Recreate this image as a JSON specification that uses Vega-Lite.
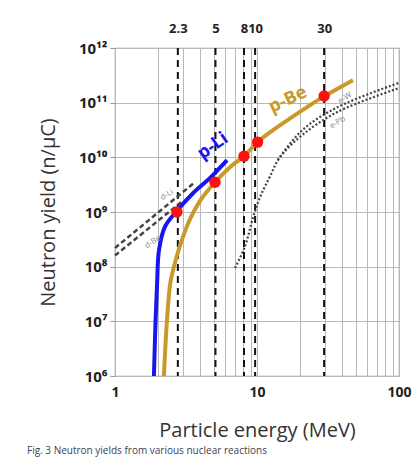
{
  "$schema": "https://vega.github.io/schema/vega-lite/v6.json",
  "width": 284,
  "height": 328,
  "autosize": "none",
  "padding": {"left": 115, "top": 48, "right": 18, "bottom": 92},
  "background": "white",
  "title": {"text": "Fig. 3  Neutron yields from various nuclear reactions", "orient": "bottom", "anchor": "start", "frame": "group", "fontSize": 10, "fontWeight": "normal", "font": "Open Sans", "color": "#3a3f55", "dx": -88, "offset": 6},
  "config": {
    "font": "Open Sans",
    "view": {"stroke": "#999", "strokeWidth": 1.2},
    "axis": {"gridColor": "#b8b8b8", "gridWidth": 1, "gridOpacity": 1, "labelColor": "#222", "titleColor": "#333", "domain": false}
  },
  "datasets": {
    "curves": [
      {"series": "p-Li", "energy": 1.88, "yield": 1e6},
      {"series": "p-Li", "energy": 1.93, "yield": 1e7},
      {"series": "p-Li", "energy": 1.98, "yield": 5e7},
      {"series": "p-Li", "energy": 2.04, "yield": 2e8},
      {"series": "p-Li", "energy": 2.25, "yield": 5.4e8},
      {"series": "p-Li", "energy": 2.73, "yield": 1.05e9},
      {"series": "p-Li", "energy": 3.54, "yield": 2.2e9},
      {"series": "p-Li", "energy": 4.67, "yield": 4.2e9},
      {"series": "p-Li", "energy": 6.15, "yield": 8.9e9},
      {"series": "p-Be", "energy": 2.21, "yield": 1e6},
      {"series": "p-Be", "energy": 2.32, "yield": 1e7},
      {"series": "p-Be", "energy": 2.45, "yield": 5e7},
      {"series": "p-Be", "energy": 2.6, "yield": 1e8},
      {"series": "p-Be", "energy": 2.85, "yield": 2.3e8},
      {"series": "p-Be", "energy": 3.3, "yield": 6.5e8},
      {"series": "p-Be", "energy": 3.97, "yield": 1.6e9},
      {"series": "p-Be", "energy": 5.06, "yield": 3.5e9},
      {"series": "p-Be", "energy": 6.45, "yield": 6.6e9},
      {"series": "p-Be", "energy": 8.1, "yield": 1.05e10},
      {"series": "p-Be", "energy": 10.1, "yield": 1.9e10},
      {"series": "p-Be", "energy": 13, "yield": 3.16e10},
      {"series": "p-Be", "energy": 17, "yield": 5.1e10},
      {"series": "p-Be", "energy": 22.5, "yield": 8.3e10},
      {"series": "p-Be", "energy": 29.5, "yield": 1.29e11},
      {"series": "p-Be", "energy": 47.4, "yield": 2.57e11},
      {"series": "d-Li", "energy": 1.0, "yield": 2.2e8},
      {"series": "d-Li", "energy": 3.6, "yield": 3.4e9},
      {"series": "d-Be", "energy": 1.0, "yield": 1.6e8},
      {"series": "d-Be", "energy": 3.0, "yield": 1.6e9},
      {"series": "e-W", "energy": 14, "yield": 9e9},
      {"series": "e-W", "energy": 21, "yield": 3.2e10},
      {"series": "e-W", "energy": 37, "yield": 8.3e10},
      {"series": "e-W", "energy": 100, "yield": 2.3e11},
      {"series": "e-Pb", "energy": 7.0, "yield": 9.5e7},
      {"series": "e-Pb", "energy": 8.2, "yield": 2.3e8},
      {"series": "e-Pb", "energy": 9.4, "yield": 8.1e8},
      {"series": "e-Pb", "energy": 10.5, "yield": 1.86e9},
      {"series": "e-Pb", "energy": 12.3, "yield": 4.4e9},
      {"series": "e-Pb", "energy": 14.5, "yield": 1e10},
      {"series": "e-Pb", "energy": 21, "yield": 2.6e10},
      {"series": "e-Pb", "energy": 37, "yield": 6.8e10},
      {"series": "e-Pb", "energy": 100, "yield": 1.85e11}
    ],
    "dots": [
      {"energy": 2.73, "yield": 1.0e9},
      {"energy": 5.06, "yield": 3.5e9},
      {"energy": 8.1, "yield": 1.05e10},
      {"energy": 10.1, "yield": 1.9e10},
      {"energy": 29.7, "yield": 1.32e11}
    ],
    "vlines": [
      {"energy": 2.77, "label": "2.3"},
      {"energy": 5.1, "label": "5"},
      {"energy": 8.1, "label": "8"},
      {"energy": 9.7, "label": "10"},
      {"energy": 29.7, "label": "30"}
    ],
    "labels": [
      {"text": "p-Li", "group": "pLi", "energy": 4.9, "yield": 1.6e10},
      {"text": "p-Be", "group": "pBe", "energy": 16.5, "yield": 1.12e11},
      {"text": "d-Li", "group": "small", "energy": 2.32, "yield": 2.05e9},
      {"text": "d-Be", "group": "small", "energy": 1.85, "yield": 2.8e8},
      {"text": "e-W", "group": "small", "energy": 41.7, "yield": 1.2e11},
      {"text": "e-Pb", "group": "small", "energy": 37, "yield": 4.3e10}
    ]
  },
  "layer": [
    {
      "data": {"name": "vlines"},
      "mark": {"type": "rule", "color": "#111", "strokeWidth": 2, "strokeDash": [7, 5]},
      "encoding": {
        "x": {"field": "energy", "type": "quantitative", "scale": {"type": "log", "domain": [1, 100]},
          "axis": {"orient": "top", "title": null, "grid": false, "ticks": false, "domain": false,
            "values": [2.77, 5.1, 8.1, 9.7, 29.7], "labelOverlap": false, "labelFlush": false,
            "labelExpr": "datum.value < 3 ? '2.3' : datum.value < 6 ? '5' : datum.value < 9 ? '8' : datum.value < 15 ? '10' : '30'",
            "labelOffset": {"condition": {"test": "datum.value < 9 && datum.value > 9", "value": 0}, "value": 0},
            "labelFontSize": 13, "labelFontWeight": "bold", "labelPadding": 13, "labelColor": "#222"}}
      }
    },
    {
      "data": {"name": "curves"},
      "transform": [{"filter": "datum.series == 'p-Li' || datum.series == 'p-Be'"}],
      "mark": {"type": "line", "strokeWidth": 4, "interpolate": "catmull-rom"},
      "encoding": {
        "x": {"field": "energy", "type": "quantitative", "scale": {"type": "log", "domain": [1, 100]},
          "axis": {"orient": "bottom", "title": "Particle energy (MeV)", "grid": true, "ticks": false,
            "values": [1, 2, 3, 4, 5, 6, 7, 8, 9, 10, 20, 30, 40, 50, 60, 70, 80, 90, 100],
            "labelExpr": "indexof([1, 10, 100], datum.value) >= 0 ? '' + datum.value : ''",
            "labelOverlap": false, "labelFlush": false, "labelFontSize": 14, "labelFontWeight": "bold", "labelPadding": 9,
            "titleFontSize": 20, "titleFontWeight": "normal", "titlePadding": 21}},
        "y": {"field": "yield", "type": "quantitative", "scale": {"type": "log", "domain": [1e6, 1e12]},
          "axis": {"title": "Neutron yield (n/μC)", "grid": true, "values": [1e6, 1e7, 1e8, 1e9, 1e10, 1e11, 1e12],
            "labelExpr": "'10' + ['⁶','⁷','⁸','⁹','¹⁰','¹¹','¹²'][round(log(datum.value)/LN10) - 6]",
            "labelFontSize": 15, "labelFontWeight": "bold", "labelPadding": 3, "tickSize": 5, "tickColor": "#999",
            "labelOverlap": false, "labelFlush": false,
            "titleFontSize": 20, "titleFontWeight": "normal", "titlePadding": 20}},
        "color": {"field": "series", "type": "nominal", "scale": {"domain": ["p-Li", "p-Be"], "range": ["#1a14f0", "#c99a2a"]}, "legend": null}
      }
    },
    {
      "data": {"name": "curves"},
      "transform": [{"filter": "datum.series == 'd-Li' || datum.series == 'd-Be'"}],
      "mark": {"type": "line", "strokeWidth": 2.5, "strokeDash": [5, 3], "color": "#444"},
      "encoding": {
        "x": {"field": "energy", "type": "quantitative", "scale": {"type": "log", "domain": [1, 100]}, "axis": null},
        "y": {"field": "yield", "type": "quantitative", "scale": {"type": "log", "domain": [1e6, 1e12]}},
        "detail": {"field": "series", "type": "nominal"}
      }
    },
    {
      "data": {"name": "curves"},
      "transform": [{"filter": "datum.series == 'e-W' || datum.series == 'e-Pb'"}],
      "mark": {"type": "line", "strokeWidth": 2.2, "strokeDash": [2, 2], "color": "#444", "interpolate": "catmull-rom"},
      "encoding": {
        "x": {"field": "energy", "type": "quantitative", "scale": {"type": "log", "domain": [1, 100]}, "axis": null},
        "y": {"field": "yield", "type": "quantitative", "scale": {"type": "log", "domain": [1e6, 1e12]}},
        "detail": {"field": "series", "type": "nominal"}
      }
    },
    {
      "data": {"name": "dots"},
      "mark": {"type": "point", "shape": "circle", "filled": true, "color": "#ff1010", "opacity": 1, "size": 130},
      "encoding": {
        "x": {"field": "energy", "type": "quantitative", "scale": {"type": "log", "domain": [1, 100]}, "axis": null},
        "y": {"field": "yield", "type": "quantitative", "scale": {"type": "log", "domain": [1e6, 1e12]}}
      }
    },
    {
      "data": {"name": "labels"},
      "transform": [{"filter": "datum.group == 'pLi'"}],
      "mark": {"type": "text", "color": "#1a14f0", "fontWeight": "bold", "fontSize": 18, "angle": -35, "font": "Open Sans"},
      "encoding": {
        "x": {"field": "energy", "type": "quantitative", "scale": {"type": "log", "domain": [1, 100]}, "axis": null},
        "y": {"field": "yield", "type": "quantitative", "scale": {"type": "log", "domain": [1e6, 1e12]}},
        "text": {"field": "text"}
      }
    },
    {
      "data": {"name": "labels"},
      "transform": [{"filter": "datum.group == 'pBe'"}],
      "mark": {"type": "text", "color": "#c99a2a", "fontWeight": "bold", "fontSize": 18, "angle": -25, "font": "Open Sans"},
      "encoding": {
        "x": {"field": "energy", "type": "quantitative", "scale": {"type": "log", "domain": [1, 100]}, "axis": null},
        "y": {"field": "yield", "type": "quantitative", "scale": {"type": "log", "domain": [1e6, 1e12]}},
        "text": {"field": "text"}
      }
    },
    {
      "data": {"name": "labels"},
      "transform": [{"filter": "datum.group == 'small'"}],
      "mark": {"type": "text", "color": "#888", "fontSize": 8, "angle": -32, "font": "Open Sans"},
      "encoding": {
        "x": {"field": "energy", "type": "quantitative", "scale": {"type": "log", "domain": [1, 100]}, "axis": null},
        "y": {"field": "yield", "type": "quantitative", "scale": {"type": "log", "domain": [1e6, 1e12]}},
        "text": {"field": "text"}
      }
    }
  ],
  "resolve": {"axis": {"x": "independent"}}
}
